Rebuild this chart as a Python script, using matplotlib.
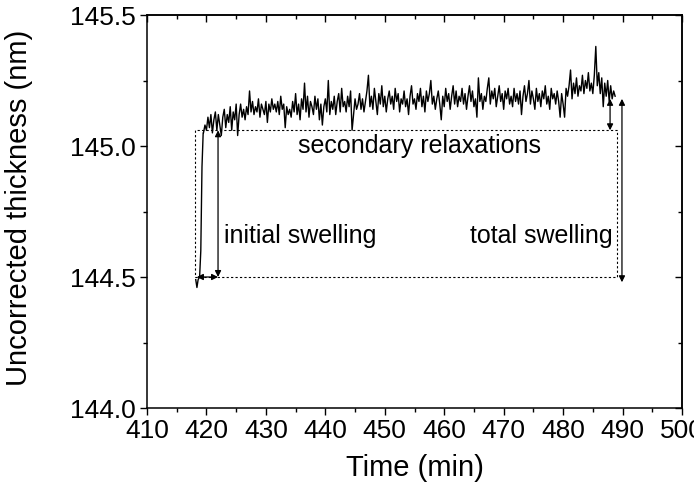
import numpy as np
import matplotlib
matplotlib.use('Agg')
import matplotlib.pyplot as plt
from matplotlib.ticker import MultipleLocator

plt.rcParams['font.family'] = ['Liberation Sans', 'DejaVu Sans']

# jump at the start of the swelling
rise_t = [418.2, 418.4, 418.6, 418.85, 419.05, 419.25, 419.45]
rise_d = [144.49, 144.46, 144.49, 144.50, 144.60, 144.92, 145.05]

# plateau, sampled every 0.25 min from 419.5 min
plat_t0 = 419.5
plat_dt = 0.25
plat_d = [
    145.05, 145.08, 145.06, 145.11, 145.07, 145.12, 145.05, 145.10,
    145.13, 145.06, 145.12, 145.08, 145.04, 145.11, 145.14, 145.07,
    145.12, 145.09, 145.15, 145.06, 145.13, 145.10, 145.16, 145.04,
    145.12, 145.16, 145.11, 145.14, 145.10, 145.15, 145.12, 145.21,
    145.13, 145.17, 145.12, 145.15, 145.13, 145.18, 145.11, 145.16,
    145.14, 145.12, 145.17, 145.09, 145.16, 145.13, 145.18, 145.14,
    145.16, 145.13, 145.17, 145.12, 145.19, 145.14, 145.16, 145.07,
    145.15, 145.12, 145.14, 145.11, 145.17, 145.13, 145.20, 145.12,
    145.16, 145.10, 145.18, 145.14, 145.24, 145.13, 145.19, 145.11,
    145.17, 145.15, 145.12, 145.19, 145.14, 145.18, 145.10, 145.16,
    145.08, 145.15, 145.18, 145.13, 145.25, 145.12, 145.17, 145.14,
    145.19, 145.12, 145.17, 145.20, 145.13, 145.22, 145.15, 145.17,
    145.13, 145.19, 145.15, 145.21, 145.06, 145.12, 145.18, 145.14,
    145.16, 145.20, 145.14, 145.18, 145.13, 145.17, 145.21, 145.27,
    145.15, 145.19, 145.14, 145.22, 145.17, 145.12, 145.20, 145.16,
    145.23, 145.15, 145.19, 145.13, 145.18, 145.21, 145.16, 145.19,
    145.14, 145.22, 145.17, 145.20, 145.13, 145.18, 145.16, 145.21,
    145.15, 145.18, 145.12, 145.19, 145.23, 145.16, 145.18, 145.14,
    145.20, 145.17, 145.22, 145.15, 145.19, 145.13, 145.21, 145.17,
    145.20, 145.25, 145.16, 145.19, 145.14, 145.18, 145.21, 145.16,
    145.10, 145.19, 145.15, 145.22, 145.17, 145.20, 145.14, 145.19,
    145.23, 145.16, 145.21, 145.15, 145.19, 145.17, 145.22, 145.16,
    145.20, 145.14, 145.19, 145.23, 145.17, 145.21, 145.15, 145.18,
    145.11, 145.26, 145.17, 145.20, 145.14, 145.19, 145.17, 145.22,
    145.26, 145.16, 145.21, 145.18, 145.22, 145.15, 145.19, 145.23,
    145.17, 145.20, 145.14, 145.21, 145.18, 145.22, 145.16, 145.19,
    145.15, 145.22, 145.17, 145.20, 145.16, 145.21, 145.12, 145.19,
    145.23, 145.17, 145.20, 145.25, 145.16, 145.21, 145.18, 145.14,
    145.22, 145.17, 145.20, 145.15, 145.21, 145.18, 145.23, 145.16,
    145.19, 145.14, 145.22, 145.18, 145.20, 145.16, 145.21, 145.17,
    145.11, 145.20, 145.16, 145.11, 145.22, 145.19, 145.23, 145.29,
    145.18, 145.24, 145.20, 145.26, 145.19, 145.23, 145.21, 145.27,
    145.20, 145.25, 145.22, 145.28, 145.21, 145.24, 145.20, 145.27,
    145.38, 145.23, 145.28, 145.20, 145.26, 145.15, 145.24, 145.19,
    145.25, 145.17, 145.23, 145.18, 145.21, 145.19,
]

# guide box and arrows
box_t = [418.1, 489.1]
box_d = [144.50, 145.06]
init_t = 421.95
sec_t, sec_top = 487.9, 145.18
tot_t, tot_top, tot_bot = 489.9, 145.18, 144.48

plat_t = plat_t0 + plat_dt * np.arange(len(plat_d))
t = np.concatenate([rise_t, plat_t])
d = np.concatenate([rise_d, plat_d])

fig = plt.figure(figsize=(6.94, 4.94), dpi=100)
ax = fig.add_axes([147 / 694, 86 / 494, 535 / 694, 393 / 494])

ax.plot(t, d, color='black', lw=1.0)

dot = dict(color='black', lw=0.8, linestyle=(0, (2, 2)))
ax.plot([box_t[0], box_t[1], box_t[1], box_t[0], box_t[0]],
        [box_d[0], box_d[0], box_d[1], box_d[1], box_d[0]], **dot)

arr = dict(arrowstyle='<|-|>', color='black', lw=0.9, mutation_scale=9,
           shrinkA=0, shrinkB=0)
ax.annotate('', xy=(rise_t[1], box_d[0]), xytext=(init_t, box_d[0]), arrowprops=arr)
ax.annotate('', xy=(init_t, box_d[1]), xytext=(init_t, box_d[0]), arrowprops=arr)
ax.annotate('', xy=(sec_t, sec_top), xytext=(sec_t, box_d[1]), arrowprops=arr)
ax.annotate('', xy=(tot_t, tot_top), xytext=(tot_t, tot_bot), arrowprops=arr)

ax.text(455.9, 145.0, 'secondary relaxations', fontsize=18, ha='center', va='center')
ax.text(422.95, 144.655, 'initial swelling', fontsize=18, ha='left', va='center')
ax.text(488.25, 144.655, 'total swelling', fontsize=18, ha='right', va='center')

ax.set_xlim(410, 500)
ax.set_ylim(144.0, 145.5)
ax.xaxis.set_major_locator(MultipleLocator(10))
ax.xaxis.set_minor_locator(MultipleLocator(5))
ax.yaxis.set_major_locator(MultipleLocator(0.5))
ax.yaxis.set_minor_locator(MultipleLocator(0.25))
ax.yaxis.set_major_formatter(matplotlib.ticker.FormatStrFormatter('%.1f'))

ax.tick_params(which='major', direction='out', length=5, width=1.0,
               labelsize=19, pad=3)
ax.tick_params(which='minor', direction='out', length=3, width=1.0)

top = ax.secondary_xaxis('top')
top.xaxis.set_major_locator(MultipleLocator(10))
top.xaxis.set_minor_locator(MultipleLocator(5))
top.tick_params(which='major', direction='in', length=5, width=1.0, labeltop=False)
top.tick_params(which='minor', direction='in', length=3, width=1.0)
right = ax.secondary_yaxis('right')
right.yaxis.set_major_locator(MultipleLocator(0.5))
right.yaxis.set_minor_locator(MultipleLocator(0.25))
right.tick_params(which='major', direction='in', length=5, width=1.0, labelright=False)
right.tick_params(which='minor', direction='in', length=3, width=1.0)
for a in (ax, top, right):
    for s in a.spines.values():
        s.set_linewidth(1.1)

ax.set_xlabel('Time (min)', fontsize=21, labelpad=8)
ax.set_ylabel('Uncorrected thickness (nm)', fontsize=21)
ax.yaxis.set_label_coords(-(147 - 33) / 535, 0.51)

fig.savefig('out.png', dpi=100)
